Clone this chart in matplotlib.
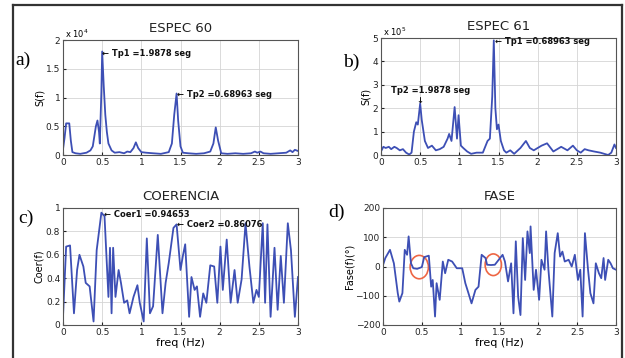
import matplotlib
matplotlib.use("Agg")
import matplotlib.pyplot as plt
from matplotlib.patches import Ellipse
from matplotlib.lines import Line2D

# ---- data ----
fa = [0.0, 0.02, 0.04, 0.08, 0.10, 0.12, 0.16, 0.22, 0.30, 0.35, 0.38, 0.42, 0.44, 0.46, 0.47, 0.49, 0.50,
      0.52, 0.54, 0.56, 0.58, 0.62, 0.66, 0.72, 0.78, 0.82, 0.86, 0.90, 0.93, 0.96, 1.00, 1.06, 1.15, 1.25,
      1.35, 1.39, 1.42, 1.45, 1.47, 1.50, 1.53, 1.60, 1.70, 1.80, 1.88, 1.92, 1.95, 1.98, 2.02, 2.10, 2.20,
      2.30, 2.40, 2.45, 2.48, 2.52, 2.56, 2.65, 2.75, 2.85, 2.90, 2.93, 2.96, 3.0]
sa = [0.10, 0.30, 0.55, 0.55, 0.25, 0.05, 0.03, 0.02, 0.04, 0.08, 0.15, 0.50, 0.60, 0.40, 0.20, 1.10, 1.80,
      1.20, 0.70, 0.40, 0.20, 0.08, 0.04, 0.05, 0.03, 0.06, 0.05, 0.12, 0.22, 0.12, 0.05, 0.04, 0.03, 0.02,
      0.05, 0.20, 0.70, 1.07, 0.60, 0.15, 0.04, 0.03, 0.02, 0.03, 0.06, 0.20, 0.48, 0.25, 0.03, 0.02, 0.03,
      0.02, 0.03, 0.06, 0.04, 0.06, 0.03, 0.02, 0.03, 0.04, 0.08, 0.05, 0.09, 0.07]

fb = [0.0, 0.03, 0.06, 0.10, 0.13, 0.17, 0.20, 0.24, 0.28, 0.32, 0.36, 0.39, 0.42, 0.45, 0.47, 0.50, 0.52,
      0.56, 0.60, 0.65, 0.70, 0.75, 0.80, 0.85, 0.87, 0.90, 0.94, 0.97, 0.99, 1.02, 1.05, 1.10, 1.15, 1.22,
      1.30, 1.36, 1.39, 1.42, 1.44, 1.46, 1.48, 1.50, 1.53, 1.57, 1.60, 1.65, 1.70, 1.78, 1.85, 1.90, 1.95,
      2.00, 2.05, 2.12, 2.20, 2.25, 2.30, 2.38, 2.45, 2.50, 2.55, 2.60, 2.65, 2.72, 2.80, 2.85, 2.90, 2.94,
      2.98, 3.0]
sb = [0.15, 0.35, 0.30, 0.35, 0.25, 0.35, 0.30, 0.20, 0.25, 0.10, 0.02, 0.10, 1.00, 1.40, 1.30, 2.20, 1.50,
      0.60, 0.30, 0.40, 0.20, 0.25, 0.35, 0.70, 0.90, 0.60, 2.05, 0.70, 1.70, 0.40, 0.30, 0.15, 0.05, 0.10,
      0.10, 0.60, 0.70, 2.50, 4.90, 2.00, 1.10, 1.30, 0.60, 0.20, 0.10, 0.20, 0.05, 0.30, 0.60, 0.30, 0.20,
      0.30, 0.40, 0.50, 0.15, 0.25, 0.35, 0.20, 0.40, 0.20, 0.10, 0.25, 0.20, 0.15, 0.10, 0.05, 0.00, 0.10,
      0.45, 0.30]

fc = [0.0, 0.04, 0.09, 0.14, 0.18, 0.21, 0.26, 0.29, 0.34, 0.39, 0.43, 0.49, 0.53, 0.58, 0.60, 0.62, 0.64,
      0.67, 0.71, 0.74, 0.78, 0.82, 0.85, 0.90, 0.95, 0.98, 1.03, 1.07, 1.11, 1.15, 1.21, 1.27, 1.31, 1.35,
      1.41, 1.45, 1.50, 1.53, 1.56, 1.61, 1.64, 1.68, 1.71, 1.75, 1.79, 1.83, 1.88, 1.93, 1.97, 2.01, 2.04,
      2.09, 2.14, 2.19, 2.23, 2.28, 2.33, 2.38, 2.43, 2.47, 2.50, 2.55, 2.58, 2.61, 2.65, 2.70, 2.74, 2.78,
      2.82, 2.87, 2.91, 2.96, 3.0]
coer = [0.07, 0.67, 0.68, 0.10, 0.47, 0.60, 0.50, 0.36, 0.33, 0.03, 0.64, 0.96, 0.93, 0.24, 0.66, 0.10, 0.66,
        0.24, 0.47, 0.36, 0.19, 0.21, 0.10, 0.24, 0.34, 0.19, 0.03, 0.74, 0.10, 0.16, 0.77, 0.10, 0.36, 0.53,
        0.83, 0.86, 0.47, 0.59, 0.69, 0.07, 0.41, 0.30, 0.33, 0.07, 0.27, 0.19, 0.51, 0.50, 0.19, 0.67, 0.30,
        0.73, 0.19, 0.47, 0.19, 0.39, 0.87, 0.50, 0.19, 0.30, 0.24, 0.87, 0.19, 0.86, 0.07, 0.66, 0.13, 0.59,
        0.19, 0.87, 0.64, 0.07, 0.41]

fd = [0.0, 0.03, 0.09, 0.14, 0.19, 0.21, 0.25, 0.28, 0.31, 0.33, 0.36, 0.39, 0.44, 0.50, 0.53, 0.59, 0.62,
      0.64, 0.67, 0.69, 0.73, 0.77, 0.80, 0.84, 0.89, 0.95, 1.02, 1.06, 1.10, 1.14, 1.19, 1.23, 1.27, 1.32,
      1.34, 1.39, 1.44, 1.54, 1.57, 1.61, 1.65, 1.68, 1.71, 1.74, 1.77, 1.80, 1.83, 1.86, 1.89, 1.90, 1.94,
      1.97, 2.01, 2.04, 2.08, 2.10, 2.13, 2.18, 2.21, 2.25, 2.28, 2.31, 2.34, 2.39, 2.43, 2.47, 2.51, 2.54,
      2.57, 2.60, 2.64, 2.67, 2.71, 2.74, 2.78, 2.81, 2.84, 2.86, 2.90, 2.93, 2.96, 3.0]
fase = [5, 29, 57, 11, -91, -120, -91, 57, 40, 103, 11, -6, -8, -2, 32, 37, -69,
        -46, -171, -57, -114, 17, -23, 23, 17, -6, -6, -57, -91, -126, -80, -69, 40, 29,
        6, 5, 6, 40, 17, -51, 11, -160, 86, -103, -166, 97, -46, 120, 46, 137, -80,
        -11, -114, 23, -11, 120, -11, -171, 46, 114, 34, 51, 17, 23, 0, 40, -46, -11,
        -171, 114, -11, -91, -126, 11, -23, -40, 29, -46, 23, 11, -6, -11]

xticks = [0, 0.5, 1, 1.5, 2, 2.5, 3]
xticklabels = ['0', '0.5', '1', '1.5', '2', '2.5', '3']

# ---- figure ----
W, H = 625, 358
fig = plt.figure(figsize=(W / 100, H / 100), dpi=100)
fig.patch.set_facecolor('white')

blue = '#3d4fb5'
red = '#ee6644'
tick_fs = 6.5


def px_axes(l, t, r, b):
    return fig.add_axes([l / W, 1 - b / H, (r - l) / W, (b - t) / H])


def style(ax, ylim, yticks, ylabel):
    ax.set_xlim(0, 3)
    ax.set_ylim(*ylim)
    ax.set_xticks(xticks)
    ax.set_xticklabels(xticklabels)
    ax.set_yticks(yticks)
    ax.grid(True, color='#d4d4d4', lw=0.6)
    ax.set_axisbelow(True)
    ax.tick_params(direction='in', length=2.5, labelsize=tick_fs, colors='#222222', pad=2)
    for s in ax.spines.values():
        s.set_color('#555555')
        s.set_linewidth(0.8)
    ax.set_ylabel(ylabel, fontsize=7, labelpad=1)


ann = dict(fontsize=6, fontweight='bold', color='#111111')
title_fs = 9.5
lab_fs = 14

# a)
ax = px_axes(63, 40, 298, 155)
ax.plot(fa, sa, color=blue, lw=1.3)
style(ax, (0, 2), [0, 0.5, 1, 1.5, 2], 'S(f)')
ax.set_yticklabels(['0', '0.5', '1', '1.5', '2'])
ax.set_title('ESPEC 60', fontsize=title_fs, pad=6, color='#222222')
ax.text(0.01, 1.0, r'x 10$^{4}$', transform=ax.transAxes, fontsize=6, va='bottom', ha='left')
ax.text(0.5, 1.76, '\u2190 Tp1 =1.9878 seg', va='center', ha='left', **ann)
ax.text(1.46, 1.05, '\u2190 Tp2 =0.68963 seg', va='center', ha='left', **ann)
fig.text(15 / W, 1 - 60 / H, 'a)', fontsize=lab_fs, family='Liberation Serif', va='center')

# b)
ax = px_axes(381, 38, 616, 155)
ax.plot(fb, sb, color=blue, lw=1.3)
style(ax, (0, 5), [0, 1, 2, 3, 4, 5], 'S(f)')
ax.set_title('ESPEC 61', fontsize=title_fs, pad=6, color='#222222')
ax.text(0.01, 1.0, r'x 10$^{5}$', transform=ax.transAxes, fontsize=6, va='bottom', ha='left')
ax.text(1.45, 4.85, '\u2190 Tp1 =0.68963 seg', va='center', ha='left', **ann)
ax.text(0.13, 2.75, 'Tp2 =1.9878 seg', va='center', ha='left', **ann)
ax.text(0.5, 2.35, '\u2193', va='center', ha='center', **ann)
fig.text(343 / W, 1 - 62 / H, 'b)', fontsize=lab_fs, family='Liberation Serif', va='center')

# c)
ax = px_axes(63, 208, 298, 325)
ax.plot(fc, coer, color=blue, lw=1.3)
style(ax, (0, 1), [0, 0.2, 0.4, 0.6, 0.8, 1], 'Coer(f)')
ax.set_yticklabels(['0', '0.2', '0.4', '0.6', '0.8', '1'])
ax.set_title('COERENCIA', fontsize=title_fs, pad=6, color='#222222')
ax.set_xlabel('freq (Hz)', fontsize=8, labelpad=1)
ax.text(0.52, 0.945, '\u2190 Coer1 =0.94653', va='center', ha='left', **ann)
ax.text(1.46, 0.86, '\u2190 Coer2 =0.86076', va='center', ha='left', **ann)
fig.text(18 / W, 1 - 218 / H, 'c)', fontsize=lab_fs, family='Liberation Serif', va='center')

# d)
ax = px_axes(383, 208, 616, 325)
ax.plot(fd, fase, color=blue, lw=1.3)
style(ax, (-200, 200), [-200, -100, 0, 100, 200], 'Fase(f)(\u00b0)')
ax.set_title('FASE', fontsize=title_fs, pad=6, color='#222222')
ax.set_xlabel('freq (Hz)', fontsize=8, labelpad=1)
ax.add_patch(Ellipse((0.467, -2), 0.235, 80, fill=False, edgecolor=red, lw=1.2))
ax.add_patch(Ellipse((1.42, 6), 0.21, 74, fill=False, edgecolor=red, lw=1.2))
fig.text(328 / W, 1 - 212 / H, 'd)', fontsize=lab_fs, family='Liberation Serif', va='center')

# outer frame
fc_ = '#333333'
fig.add_artist(Line2D([12.5 / W, 12.5 / W], [0, 1 - 5 / H], color=fc_, lw=1.6, transform=fig.transFigure))
fig.add_artist(Line2D([621.5 / W, 621.5 / W], [0, 1 - 5 / H], color=fc_, lw=1.6, transform=fig.transFigure))
fig.add_artist(Line2D([12.5 / W, 621.5 / W], [1 - 5 / H, 1 - 5 / H], color=fc_, lw=1.6, transform=fig.transFigure))

fig.savefig('out.png', dpi=100)
